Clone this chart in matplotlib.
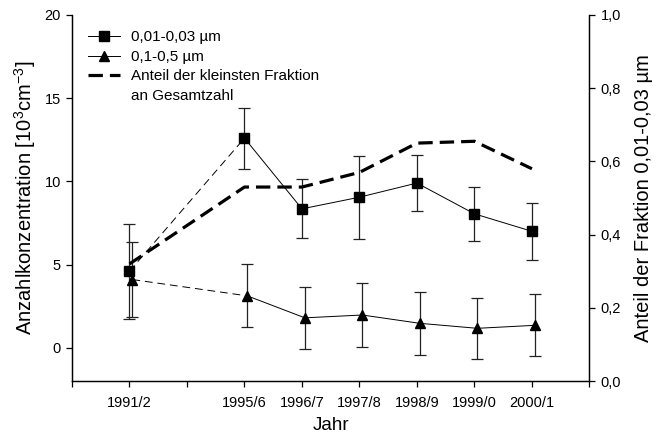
import matplotlib
matplotlib.use('Agg')
import matplotlib.pyplot as plt
from matplotlib.lines import Line2D
from matplotlib.ticker import FuncFormatter

# Jahre (die Lücke 1993/4 bleibt als Tick ohne Beschriftung)
jahre = ['1991/2', '', '1995/6', '1996/7', '1997/8', '1998/9', '1999/0', '2000/1']

# 0,01-0,03 µm
fein = [4.6, 12.6, 8.35, 9.05, 9.9, 8.05, 7.0]
fein_err = [2.85, 1.83, 1.78, 2.5, 1.7, 1.64, 1.73]

# 0,1-0,5 µm
grob = [4.1, 3.12, 1.8, 1.97, 1.47, 1.17, 1.35]
grob_err = [2.24, 1.9, 1.88, 1.95, 1.9, 1.85, 1.87]

# Anteil der kleinsten Fraktion an Gesamtzahl
anteil = [0.32, 0.53, 0.53, 0.57, 0.65, 0.655, 0.58]

plt.rcParams['font.family'] = ['Liberation Sans', 'DejaVu Sans']
plt.rcParams['mathtext.fontset'] = 'custom'
plt.rcParams['mathtext.rm'] = 'Liberation Sans'
plt.rcParams['mathtext.it'] = 'Liberation Sans'

x = [i for i, j in enumerate(jahre) if j]
xt = [v + 0.05 for v in x]  # Dreiecke leicht versetzt

fig = plt.figure(figsize=(6.63, 4.37), dpi=100)
ax = fig.add_axes([0.1086, 0.128, 0.7804, 0.8377])
ax2 = ax.twinx()

ebar = dict(fmt='none', ecolor='#222222', elinewidth=0.9, capsize=4.5, capthick=0.9)
ax.errorbar(x, fein, yerr=fein_err, **ebar)
ax.errorbar(xt, grob, yerr=grob_err, **ebar)

# 1991/2 -> 1995/6 gestrichelt (keine Messungen dazwischen)
ax.plot(x[:2], fein[:2], color='black', lw=0.7, dashes=(8, 5))
ax.plot(xt[:2], grob[:2], color='black', lw=0.7, dashes=(8, 5))
ax.plot(x[1:], fein[1:], color='black', lw=0.7)
ax.plot(xt[1:], grob[1:], color='black', lw=0.7)
ax.plot(x, fein, ls='none', marker='s', ms=6.5, color='black')
ax.plot(xt, grob, ls='none', marker='^', ms=7, color='black')

ax2.plot(x, anteil, color='black', lw=2.3, dashes=(4.5, 2.2))

ax.set_xlim(-1, 8)
ax.set_ylim(-2, 20)
ax2.set_ylim(0, 1)

ax.set_xticks(range(-1, 9))
ax.set_xticklabels([''] + jahre + [''])
ax.set_yticks([0, 5, 10, 15, 20])
ax2.set_yticks([0, 0.2, 0.4, 0.6, 0.8, 1.0])
ax2.yaxis.set_major_formatter(FuncFormatter(lambda v, p: f'{v:.1f}'.replace('.', ',')))

for a in (ax, ax2):
    a.spines['top'].set_visible(False)
    for s in a.spines.values():
        s.set_linewidth(0.9)
    a.tick_params(direction='out', length=4, width=0.9, labelsize=10.5, pad=4)
ax.tick_params(axis='x', pad=7)

ax.set_xlabel('Jahr', fontsize=13.5, labelpad=5)
ax.set_ylabel('Anzahlkonzentration [10$^3$cm$^{-3}$]', fontsize=14.5, labelpad=5)
ax2.set_ylabel('Anteil der Fraktion 0,01-0,03 µm', fontsize=14.5, labelpad=9)

# zweite Zeile des dritten Eintrags als Eintrag ohne Symbol
handles = [
    Line2D([], [], color='black', lw=0.7, marker='s', ms=6.5),
    Line2D([], [], color='black', lw=0.7, marker='^', ms=7),
    Line2D([], [], color='black', lw=2.3, dashes=(4.5, 2.2)),
    Line2D([], [], color='none'),
]
labels = ['0,01-0,03 µm', '0,1-0,5 µm', 'Anteil der kleinsten Fraktion', 'an Gesamtzahl']
ax.legend(handles, labels, loc='upper left', bbox_to_anchor=(0.031, 0.958), frameon=False,
          fontsize=11, handlelength=2.1, handletextpad=0.7, labelspacing=0.36,
          borderaxespad=0, borderpad=0)

fig.savefig('out.png', dpi=100)
